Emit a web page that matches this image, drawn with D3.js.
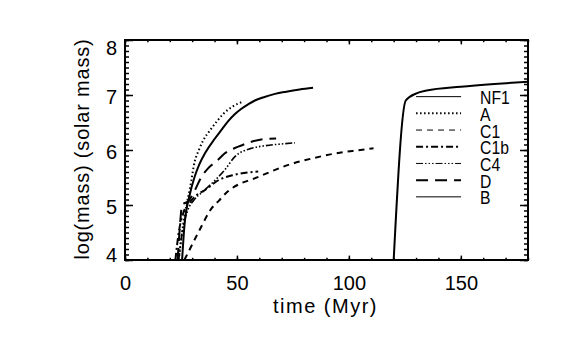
<!DOCTYPE html>
<html>
<head>
<meta charset="utf-8">
<script src="https://cdn.jsdelivr.net/npm/d3@7"></script>
<style>
  body { margin: 0; background: #fff; }
  svg text { font-family: "Liberation Sans", Arial, sans-serif; fill: #000; }
</style>
</head>
<body>
<svg id="chart" width="566" height="340"></svg>
<script>
// series (time in Myr, log mass)
const seriesNames = ["NF1", "A", "C1", "C1b", "C4", "D", "B"];

const tNF1 = [25.5, 26.5, 29, 31, 33, 36, 40, 43, 46, 49, 52, 55, 58, 62, 67, 72, 78, 84];
const mNF1 = [4.0, 4.6, 5.2, 5.5, 5.72, 5.96, 6.2, 6.36, 6.52, 6.65, 6.75, 6.83, 6.9, 6.96, 7.02, 7.06, 7.1, 7.13];

const tA = [24, 25.5, 27.5, 29, 31.2, 33, 35, 38, 41, 44, 48, 52.8];
const mA = [4.0, 4.5, 5.0, 5.3, 5.8, 6.0, 6.18, 6.36, 6.52, 6.66, 6.79, 6.88];

const tC1 = [26.5, 29, 34, 38.5, 42, 46, 51, 57, 63, 73, 78, 85, 93, 103, 111];
const mC1 = [4.0, 4.2, 4.6, 4.93, 5.08, 5.25, 5.38, 5.47, 5.57, 5.73, 5.79, 5.86, 5.93, 5.99, 6.03];

const tC1b = [22.5, 24, 26, 29, 32, 35.7, 41.7, 49, 59.5];
const mC1b = [4.0, 4.5, 4.85, 5.05, 5.18, 5.27, 5.45, 5.55, 5.61];

const tC4 = [24, 25.5, 28, 31, 35, 38.7, 44.6, 49.1, 56.5, 63, 70, 75.9];
const mC4 = [4.0, 4.5, 4.9, 5.1, 5.25, 5.39, 5.64, 5.88, 6.03, 6.08, 6.11, 6.13];

const tD = [23.5, 24.5, 25.5, 28.5, 31, 34, 37.2, 41, 44.6, 50.6, 56.5, 62, 67.5];
const mD = [4.0, 4.6, 5.0, 5.08, 5.25, 5.5, 5.67, 5.8, 5.94, 6.06, 6.15, 6.2, 6.21];

const tB = [120, 125.4, 130.2, 134.7, 150, 165, 180];
const mB = [4.0, 6.9, 7.03, 7.08, 7.15, 7.2, 7.24];

const xTicks = [0, 50, 100, 150];
const yTicks = [4, 5, 6, 7, 8];

// layout
const margin = {left: 125, top: 40, right: 38, bottom: 80};
const W = 566, H = 340;
const pw = W - margin.left - margin.right,
    ph = H - margin.top - margin.bottom;

const svg = d3.select("#chart");
const g = svg.append("g").attr("transform", `translate(${margin.left},${margin.top})`);

const x = d3.scaleLinear().domain([0, 180]).range([0, pw]);
const y = d3.scaleLinear().domain([4, 8]).range([ph, 0]);

// line styles per series
const styles = {
    NF1: {dash: null, w: 2, lw: 1},
    A: {dash: "1.5,2.5", w: 2, lw: 2},
    C1: {dash: "6,5", w: 2, lw: 1},
    C1b: {dash: "7,3,2,3", w: 2, lw: 2},
    C4: {dash: "7,2,1.5,2,1.5,2,1.5,2", w: 1.6, lw: 1},
    D: {dash: "12,7", w: 2, lw: 2},
    B: {dash: null, w: 2, lw: 1}
};
const seriesData = {
    NF1: [tNF1, mNF1], A: [tA, mA], C1: [tC1, mC1], C1b: [tC1b, mC1b],
    C4: [tC4, mC4], D: [tD, mD], B: [tB, mB]
};

svg.append("defs").append("clipPath").attr("id", "clip")
    .append("rect").attr("width", pw).attr("height", ph);

const line = d3.line()
    .x(d => x(d[0]))
    .y(d => y(d[1]))
    .curve(d3.curveMonotoneX);

const plot = g.append("g").attr("clip-path", "url(#clip)");
seriesNames.forEach(name => {
    const [ts, ms] = seriesData[name];
    const pts = ts.map((t, i) => [t, ms[i]]);
    plot.append("path")
        .datum(pts)
        .attr("d", line)
        .attr("fill", "none")
        .attr("stroke", "#000")
        .attr("stroke-width", styles[name].w)
        .attr("stroke-dasharray", styles[name].dash);
});

// axes (ticks inward, IDL style)
const xMinor = d3.range(0, 181, 10);
const yMinor = d3.range(40, 81).map(v => v / 10);

function addAxis(axis, transform, labels) {
    const a = g.append("g").attr("transform", transform).call(axis);
    a.select(".domain").remove();
    a.selectAll("line").attr("stroke", "#000").attr("stroke-width", 1.5);
    if (!labels) a.selectAll("text").remove();
    return a;
}

// bottom
addAxis(d3.axisBottom(x).tickValues(xMinor).tickSize(-2.2).tickFormat(""), `translate(0,${ph})`, false);
const xa = addAxis(d3.axisBottom(x).tickValues(xTicks).tickSize(-4.4).tickPadding(16).tickFormat(d3.format("d")), `translate(0,${ph})`, true);
xa.selectAll("text").style("font-size", "20px");
// top
addAxis(d3.axisTop(x).tickValues(xMinor).tickSize(-2.2).tickFormat(""), "translate(0,0)", false);
addAxis(d3.axisTop(x).tickValues(xTicks).tickSize(-4.4).tickFormat(""), "translate(0,0)", false);
// left
addAxis(d3.axisLeft(y).tickValues(yMinor).tickSize(-4).tickFormat(""), "translate(0,0)", false);
const ya = addAxis(d3.axisLeft(y).tickValues(yTicks).tickSize(-8).tickPadding(8).tickFormat(d3.format("d")), "translate(0,0)", true);
ya.selectAll("text").style("font-size", "20px")
    .attr("dy", d => d === 8 ? "0.7em" : d === 4 ? "0.05em" : "0.4em");
// right
addAxis(d3.axisRight(y).tickValues(yMinor).tickSize(-4).tickFormat(""), `translate(${pw},0)`, false);
addAxis(d3.axisRight(y).tickValues(yTicks).tickSize(-8).tickFormat(""), `translate(${pw},0)`, false);

// frame
g.append("rect")
    .attr("width", pw).attr("height", ph)
    .attr("fill", "none").attr("stroke", "#000").attr("stroke-width", 2);

// axis titles
g.append("text")
    .attr("x", pw / 2 - 1).attr("y", ph + 53)
    .attr("text-anchor", "middle")
    .style("font-size", "20px").style("letter-spacing", "1.5px")
    .text("time (Myr)");

g.append("text")
    .attr("transform", `translate(${-36},${ph / 2 - 1}) rotate(-90)`)
    .attr("text-anchor", "middle")
    .style("font-size", "20px").style("letter-spacing", "0.8px")
    .text("log(mass) (solar mass)");

// legend
const legend = g.append("g").attr("transform", `translate(${x(130)},${y(6.97)})`);
const rowH = 16.7;
seriesNames.forEach((name, i) => {
    legend.append("line")
        .attr("x1", 0).attr("x2", 45)
        .attr("y1", i * rowH).attr("y2", i * rowH)
        .attr("stroke", "#000")
        .attr("stroke-width", styles[name].lw)
        .attr("stroke-dasharray", styles[name].dash);
    legend.append("text")
        .attr("transform", `translate(64,${i * rowH + 7.5}) scale(0.85,1)`)
        .style("font-size", "18.5px")
        .text(name);
});
</script>
</body>
</html>
